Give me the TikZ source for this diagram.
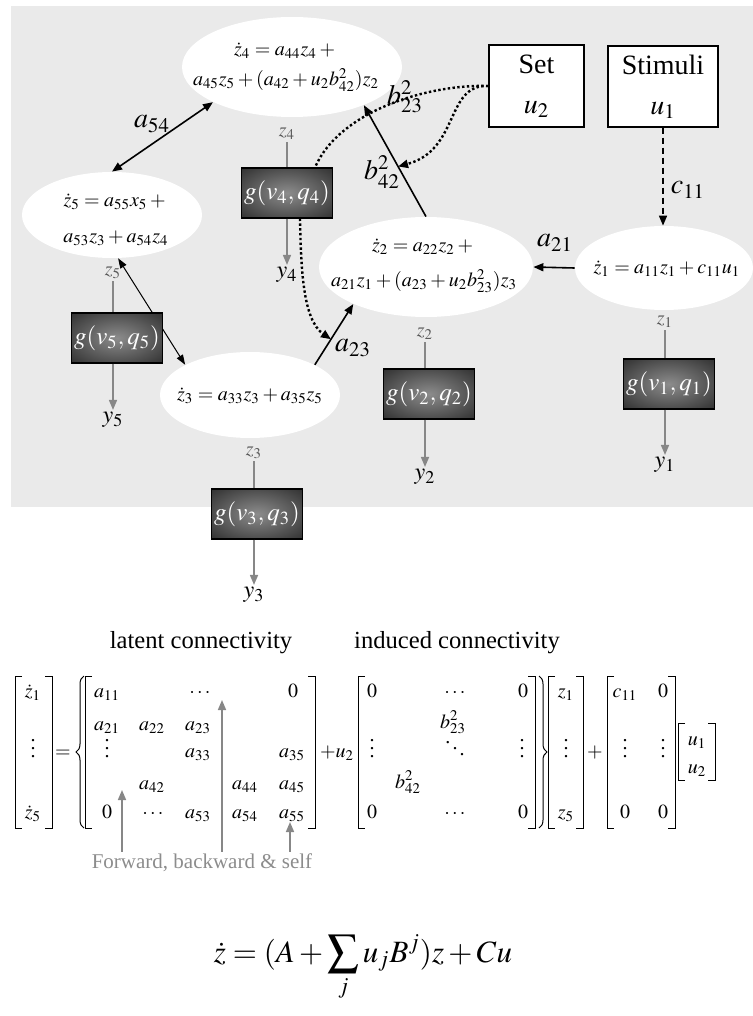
\documentclass[tikz,border=0pt]{standalone}
\usepackage{mathptmx}
\usepackage{fontspec}
\setmainfont{Liberation Serif}
\usetikzlibrary{arrows.meta, calc, shapes.geometric, decorations.pathreplacing}
\definecolor{bgGray}{RGB}{234,234,234}
\definecolor{arrowGray}{RGB}{135,135,135}
\definecolor{labelGray}{RGB}{90,90,90}
\definecolor{noteGray}{RGB}{140,140,140}
\definecolor{boxInner}{RGB}{140,140,140}
\definecolor{boxOuter}{RGB}{48,48,48}
\pgfdeclareradialshading{boxglow}{\pgfpointorigin}{color(0bp)=(boxInner); color(36bp)=(boxOuter); color(50bp)=(boxOuter)}
% matrix brackets: x, top, bottom
\newcommand{\openbrk}[3]{\draw[brk] (#1+7,#2) -- (#1,#2) -- (#1,#3) -- (#1+7,#3);}
\newcommand{\closebrk}[3]{\draw[brk] (#1-7,#2) -- (#1,#2) -- (#1,#3) -- (#1-7,#3);}

\begin{document}
\begin{tikzpicture}[x=0.5pt, y=-0.5pt,
    blob/.style={ellipse, fill=white, inner sep=0pt},
    eqtext/.style={align=center, font=\fontsize{10}{16}\selectfont, inner sep=0pt},
    gbox/.style={draw=black, line width=0.6pt, shade, shading=boxglow, text=white, font=\fontsize{12.5}{14}\selectfont, minimum width=45.5pt, minimum height=25pt, inner sep=0pt},
    inbox/.style={draw=black, fill=white, line width=0.6pt, align=center, font=\fontsize{14}{20}\selectfont, inner sep=0pt},
    lbl/.style={font=\fontsize{14}{16}\selectfont, inner sep=1pt},
    zlbl/.style={text=labelGray, font=\fontsize{10}{12}\selectfont, inner sep=1pt},
    ylbl/.style={font=\fontsize{12}{14}\selectfont, inner sep=1pt},
    link/.style={line width=0.8pt, -{Triangle[length=5pt,width=4pt]}},
    dlink/.style={line width=0.8pt, {Triangle[length=5pt,width=4pt]}-{Triangle[length=5pt,width=4pt]}},
    feed/.style={arrowGray, line width=0.8pt},
    outarrow/.style={arrowGray, line width=0.8pt, -{Triangle[length=5pt,width=4pt]}},
    modline/.style={line width=1.2pt, dash pattern=on 1.2pt off 1.2pt},
    brk/.style={line width=0.5pt},
    mtx/.style={font=\fontsize{10}{12}\selectfont, inner sep=0pt, text height=7pt, text depth=2pt},
  ]
  \useasboundingbox (0,0) rectangle (753,1016);
  \fill[bgGray] (11,6) rectangle (753,507);

  % regions
  \node[blob, minimum width=110pt, minimum height=50pt] (e4) at (292,67) {};
  \node[blob, minimum width=90pt, minimum height=43pt] (e5) at (112,215) {};
  \node[blob, minimum width=107pt, minimum height=50pt] (e2) at (426,267) {};
  \node[blob, minimum width=89pt, minimum height=42pt] (e1) at (664,268) {};
  \node[blob, minimum width=90pt, minimum height=43pt] (e3) at (250,395) {};
  \node[eqtext] (e4t) at (286,67) {$\dot z_4 = a_{44}z_4 +{}$\\[-1pt]$a_{45}z_5+(a_{42}+u_2b^2_{42})z_2$};
  \node[eqtext] (e5t) at (116,220) {$\dot z_5 = a_{55}x_5 +{}$\\[2pt]$a_{53}z_3+a_{54}z_4$};
  \node[eqtext] (e2t) at (424,266) {$\dot z_2 = a_{22}z_2 +{}$\\[1.5pt]$a_{21}z_1+(a_{23}+u_2b^2_{23})z_3$};
  \node[eqtext] (e1t) at (667,269) {$\dot z_1 = a_{11}z_1+c_{11}u_1$};
  \node[eqtext] (e3t) at (250,396) {$\dot z_3 = a_{33}z_3+a_{35}z_5$};

  % inputs
  \node[inbox, minimum width=47.5pt, minimum height=41pt] (set) at (536.5,86) {Set\\$u_2$};
  \node[inbox, minimum width=55pt, minimum height=40.5pt] (stim) at (663,86.5) {Stimuli\\$u_1$};

  % a35 / a53 pair, under the box
  \draw[line width=0.5pt, {Triangle[length=5pt,width=3.5pt]}-{Triangle[length=5pt,width=3.5pt]}] (e5.-82) -- (e3.155);

  % observers
  \node[zlbl] (zl4) at (287,134) {$z_4$};
  \node[zlbl] (zl5) at (113,273) {$z_5$};
  \node[zlbl] (zl2) at (425,334) {$z_2$};
  \node[zlbl] (zl1) at (665,322) {$z_1$};
  \node[zlbl] (zl3) at (254,453) {$z_3$};
  \node[ylbl] (yl4) at (287,275) {$y_4$};
  \node[ylbl] (yl5) at (113,420) {$y_5$};
  \node[ylbl] (yl2) at (425,477) {$y_2$};
  \node[ylbl] (yl1) at (665,465) {$y_1$};
  \node[ylbl] (yl3) at (254,595) {$y_3$};
  \node[gbox] (g4) at (287,193) {$g(v_4,q_4)$};
  \node[gbox] (g5) at (117,338) {$g(v_5,q_5)$};
  \node[gbox] (g2) at (429,394) {$g(v_2,q_2)$};
  \node[gbox] (g1) at (669,384) {$g(v_1,q_1)$};
  \node[gbox] (g3) at (257,514) {$g(v_3,q_3)$};
  \foreach \i in {1,...,5} {
    \draw[feed] (zl\i.south) -- (zl\i.south |- g\i.north);
    \draw[outarrow] (zl\i |- g\i.south) -- (yl\i.north);
  }

  % connections
  \draw[dlink] (e5.north) -- (e4.204);
  \node[lbl] (la54) at (152,124) {$a_{54}$};
  \draw[link, dash pattern=on 3pt off 2pt] (stim.south) -- (stim.south |- e1.north);
  \node[lbl] (lc11) at (688,190) {$c_{11}$};
  \draw[link] (e1.west) -- (e2.east);
  \node[lbl] (la21) at (555,243) {$a_{21}$};
  \draw[link] (e2.north) -- (e4.-28);
  \node[lbl] (lb42) at (382,172) {$b^2_{42}$};
  \draw[link] (e3.25) -- (e2.207);
  \node[lbl] (la23) at (353,348) {$a_{23}$};

  % modulation by u2
  \draw[modline] (set.west) .. controls (430,84) and (340,110) .. ([xshift=14pt]g4.north);
  \node[lbl] (lb23) at (405,97) {$b^2_{23}$};
  \draw[modline, -{Triangle[length=5pt,width=4pt]}] (set.west) .. controls (445,84) and (460,150) .. ($(e2.north)!0.45!(e4.-28)$);
  \draw[modline, -{Triangle[length=5pt,width=4pt]}] ([xshift=6.5pt]g4.south) .. controls (301,270) and (303,320) .. ($(e3.25)!0.42!(e2.207)$);

  % matrix form
  \node[font=\fontsize{12.3}{14}\selectfont] (latent) at (201,643) {latent connectivity};
  \node[font=\fontsize{12.3}{14}\selectfont] (induced) at (457,643) {induced connectivity};
  \openbrk{15}{676}{828} \closebrk{52}{676}{828}
  \node[mtx] (eqs) at (63,752) {$=$};
  \draw[brk, decorate, decoration={brace, amplitude=4pt}] (84,828) -- (84,676);
  \openbrk{85}{676}{828} \closebrk{315}{676}{828}
  \node[mtx] (plusu) at (337,752) {$+u_2$};
  \openbrk{358}{676}{828} \closebrk{535}{676}{828}
  \draw[brk, decorate, decoration={brace, amplitude=4pt}] (539,676) -- (539,828);
  \openbrk{548}{676}{828} \closebrk{583}{676}{828}
  \node[mtx] (plusc) at (595,752) {$+$};
  \openbrk{607}{676}{828} \closebrk{675}{676}{828}
  \openbrk{678}{723}{780} \closebrk{715}{723}{780}
  \foreach \px/\py/\ent [count=\k] in {33/692/\dot z_1, 33/752/\vdots, 33/813/\dot z_5,
      107/692/a_{11}, 200/692/\cdots, 293/692/0,
      107/725/a_{21}, 152/725/a_{22}, 198/725/a_{23},
      107/752/\vdots, 198/752/a_{33}, 292/752/a_{35},
      152/784/a_{42}, 245/784/a_{44}, 292/784/a_{45},
      107/813/0, 153/813/\cdots, 198/813/a_{53}, 245/813/a_{54}, 292/813/a_{55},
      372/692/0, 455/692/\cdots, 523/692/0, 453/723/b^2_{23},
      372/752/\vdots, 455/752/\ddots, 522/752/\vdots, 408/783/b^2_{42},
      372/813/0, 455/813/\cdots, 523/813/0,
      566/692/z_1, 566/752/\vdots, 566/813/z_5,
      625/692/c_{11}, 663/692/0, 625/752/\vdots, 663/752/\vdots, 625/813/0, 663/813/0,
      697/740/u_1, 697/768/u_2}
    \node[mtx] (m\k) at (\px,\py) {$\ent$};

  \node[font=\fontsize{10.5}{12}\selectfont, text=noteGray, inner sep=1pt] (note) at (202,863) {Forward, backward \& self};
  \coordinate (fwdTip) at (122,790);
  \coordinate (bwdTip) at (222,700);
  \coordinate (selfTip) at (290,822);
  \draw[outarrow] (note.north -| fwdTip) -- (fwdTip);
  \draw[outarrow] (note.north -| bwdTip) -- (bwdTip);
  \draw[outarrow] (note.north -| selfTip) -- (selfTip);

  \node[font=\fontsize{15.5}{18}\selectfont, anchor=base] (dcm) at (363,962) {$\displaystyle \dot z = (A+\sum_j u_j B^j)z + Cu$};
\end{tikzpicture}
\end{document}
